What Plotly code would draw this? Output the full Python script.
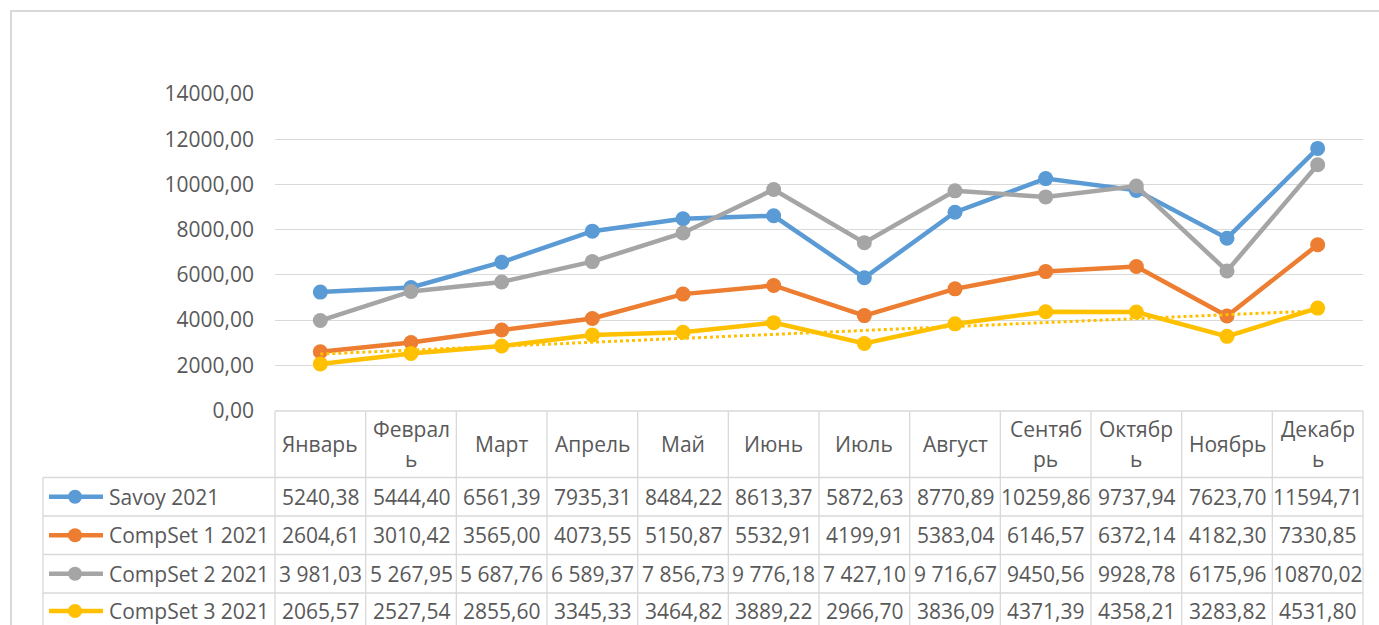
import numpy as np
import plotly.graph_objects as go

months = ["Январь", "Февраль", "Март", "Апрель", "Май", "Июнь", "Июль",
          "Август", "Сентябрь", "Октябрь", "Ноябрь", "Декабрь"]
series_names = ["Savoy 2021", "CompSet 1 2021", "CompSet 2 2021", "CompSet 3 2021"]
savoy = [5240.38, 5444.40, 6561.39, 7935.31, 8484.22, 8613.37, 5872.63,
         8770.89, 10259.86, 9737.94, 7623.70, 11594.71]
compset1 = [2604.61, 3010.42, 3565.00, 4073.55, 5150.87, 5532.91, 4199.91,
            5383.04, 6146.57, 6372.14, 4182.30, 7330.85]
compset2 = [3981.03, 5267.95, 5687.76, 6589.37, 7856.73, 9776.18, 7427.10,
            9716.67, 9450.56, 9928.78, 6175.96, 10870.02]
compset3 = [2065.57, 2527.54, 2855.60, 3345.33, 3464.82, 3889.22, 2966.70,
            3836.09, 4371.39, 4358.21, 3283.82, 4531.80]
# number cells of CompSet 2 that are shown with a thousands space in the table
compset2_grouped = [True] * 8 + [False] * 4
colors = ["#5B9BD5", "#ED7D31", "#A5A5A5", "#FFC000"]
y_ticks = [0, 2000, 4000, 6000, 8000, 10000, 12000, 14000]

W, H = 1379, 625
TXT = "#595959"
GRID = "#D9D9D9"
FONT = "Open Sans"
FS = 21

def px(x):
    return x / W

def py(y):
    return 1 - y / H

def fmt(v, grouped=False):
    s = f"{v:,.2f}" if grouped else f"{v:.2f}"
    return s.replace(",", " ").replace(".", ",")

def wrap(label, n=6):
    return [label[i:i + n] for i in range(0, len(label), n)]

all_series = [savoy, compset1, compset2, compset3]
xs = list(range(len(months)))

fig = go.Figure()
for name, vals, col in zip(series_names, all_series, colors):
    fig.add_trace(go.Scatter(
        x=xs, y=vals, name=name, mode="lines+markers",
        line=dict(color=col, width=4.5),
        marker=dict(color=col, size=15),
        showlegend=False, hoverinfo="skip"))

# linear trendline of CompSet 3
k, b = np.polyfit(xs, compset3, 1)
trend = [k * x + b for x in xs]
fig.add_trace(go.Scatter(
    x=xs, y=trend, mode="lines",
    line=dict(color=colors[3], width=3, dash="dot"),
    showlegend=False, hoverinfo="skip"))

# geometry of plot/table
X0, X1 = 275, 1363
Y_TOP, Y_ZERO = 94, 410.6
col_w = (X1 - X0) / len(months)
LEG_X = 43
row_lines = [411, 477.5, 516, 554.5, 593, 631]

shapes = []
annotations = []

# outer chart border (top and left)
shapes.append(dict(type="line", xref="paper", yref="paper",
                   x0=px(10), x1=px(W + 5), y0=py(11), y1=py(11),
                   line=dict(color=GRID, width=2)))
shapes.append(dict(type="line", xref="paper", yref="paper",
                   x0=px(11), x1=px(11), y0=py(10), y1=py(H + 5),
                   line=dict(color=GRID, width=2)))

# table horizontal lines
for i, yl in enumerate(row_lines[:-1]):
    xs0 = X0 if i == 0 else LEG_X
    shapes.append(dict(type="line", xref="paper", yref="paper",
                       x0=px(xs0), x1=px(X1), y0=py(yl), y1=py(yl),
                       line=dict(color=GRID, width=1.3)))
# table vertical lines
for c in range(len(months) + 1):
    xv = X0 + c * col_w
    shapes.append(dict(type="line", xref="paper", yref="paper",
                       x0=px(xv), x1=px(xv), y0=py(row_lines[0]), y1=py(H + 5),
                       line=dict(color=GRID, width=1.3)))
shapes.append(dict(type="line", xref="paper", yref="paper",
                   x0=px(LEG_X), x1=px(LEG_X), y0=py(row_lines[1]), y1=py(H + 5),
                   line=dict(color=GRID, width=1.3)))

# header cells
hc = (row_lines[0] + row_lines[1]) / 2
for c, m in enumerate(months):
    cx = X0 + (c + 0.5) * col_w
    parts = wrap(m)
    n = len(parts)
    for j, p in enumerate(parts):
        yy = hc + (j - (n - 1) / 2) * 30
        annotations.append(dict(x=px(cx), y=py(yy), xref="paper", yref="paper",
                                text=p, showarrow=False, xanchor="center",
                                yanchor="middle",
                                font=dict(family=FONT, size=FS, color=TXT)))

# data rows
for r, (name, vals, col) in enumerate(zip(series_names, all_series, colors)):
    rc = (row_lines[r + 1] + row_lines[r + 2]) / 2 if r < 3 else 611
    # legend key
    shapes.append(dict(type="line", xref="paper", yref="paper",
                       x0=px(49), x1=px(103), y0=py(rc), y1=py(rc),
                       line=dict(color=col, width=4.5)))
    shapes.append(dict(type="circle", xref="paper", yref="paper",
                       x0=px(75 - 7), x1=px(75 + 7), y0=py(rc + 7), y1=py(rc - 7),
                       fillcolor=col, line=dict(color=col, width=0)))
    annotations.append(dict(x=px(107), y=py(rc), xref="paper", yref="paper",
                            text=name, showarrow=False, xanchor="left",
                            yanchor="middle",
                            font=dict(family=FONT, size=FS, color=TXT)))
    for c, v in enumerate(vals):
        cx = X0 + (c + 0.5) * col_w
        g = compset2_grouped[c] if vals is compset2 else False
        annotations.append(dict(x=px(cx), y=py(rc), xref="paper", yref="paper",
                                text=fmt(v, g), showarrow=False, xanchor="center",
                                yanchor="middle",
                                font=dict(family=FONT, size=FS, color=TXT)))

fig.update_layout(
    width=W, height=H, autosize=False,
    margin=dict(l=0, r=0, t=0, b=0, autoexpand=False),
    paper_bgcolor="white", plot_bgcolor="white",
    separators=", ",
    shapes=shapes, annotations=annotations,
    xaxis=dict(domain=[px(X0), px(X1)], range=[-0.5, len(months) - 0.5],
               showgrid=False, zeroline=False, showticklabels=False,
               showline=False, fixedrange=True),
    yaxis=dict(domain=[py(Y_ZERO), py(Y_TOP)], range=[0, 14000],
               tickvals=y_ticks, tickformat=".2f",
               showgrid=True, gridcolor=GRID, gridwidth=1.3,
               zeroline=False, showline=False,
               ticks="", ticklabelstandoff=20,
               tickfont=dict(family=FONT, size=FS, color=TXT),
               fixedrange=True),
)

fig.write_html("out.html", post_script="document.body.style.margin='0';",
               config={"displayModeBar": False})
